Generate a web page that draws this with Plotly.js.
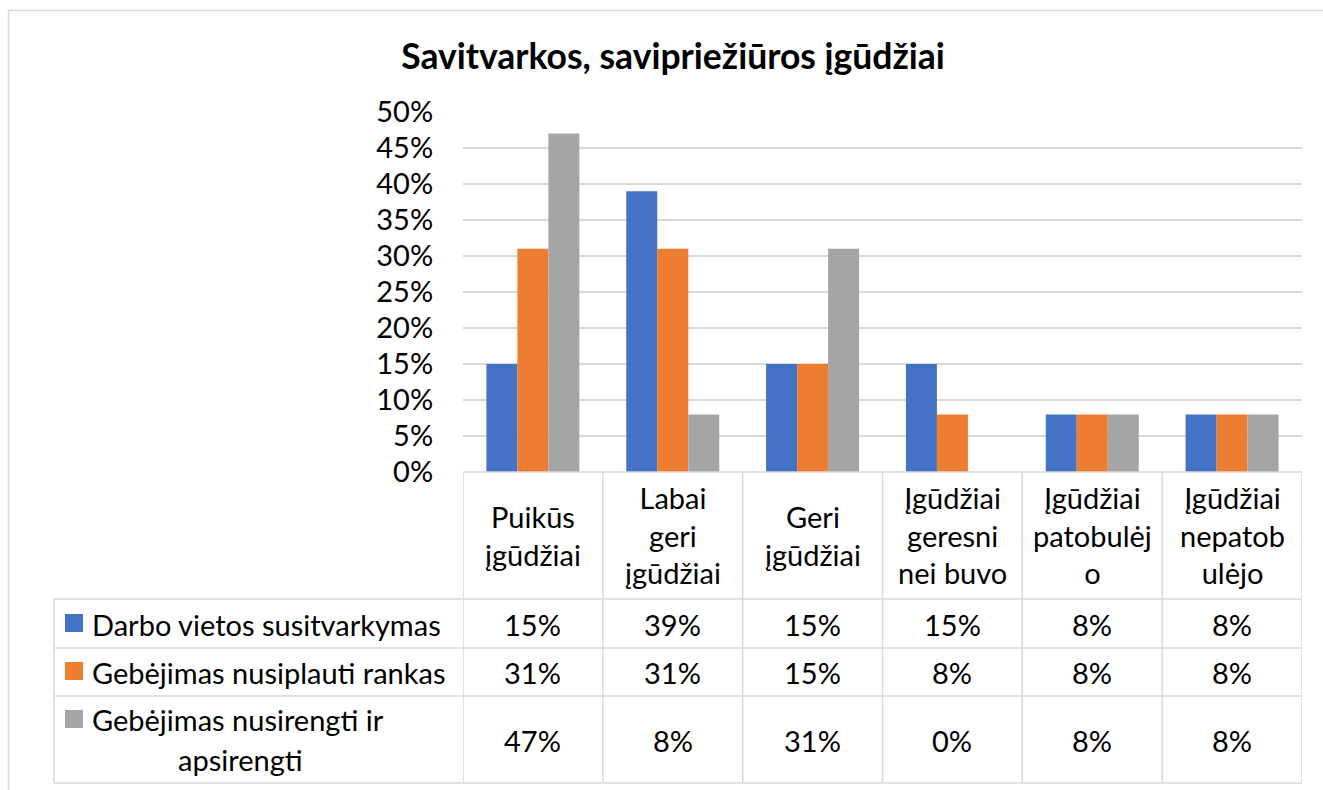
<!DOCTYPE html>
<html>
<head>
<meta charset="utf-8">
<script src="https://cdn.plot.ly/plotly-3.0.1.min.js"></script>
<style>html,body{margin:0;padding:0;background:#fff;}#chart{width:1323px;height:790px;}</style>
</head>
<body>
<div id="chart"></div>
<script>
// ---- data ----
const categories = ["Puikūs įgūdžiai", "Labai geri įgūdžiai", "Geri įgūdžiai", "Įgūdžiai geresni nei buvo", "Įgūdžiai patobulėjo", "Įgūdžiai nepatobulėjo"];
const categoryLabels = ["Puikūs<br>įgūdžiai", "Labai<br>geri<br>įgūdžiai", "Geri<br>įgūdžiai", "Įgūdžiai<br>geresni<br>nei buvo", "Įgūdžiai<br>patobulėj<br>o", "Įgūdžiai<br>nepatob<br>ulėjo"];
const seriesNames = ["Darbo vietos susitvarkymas", "Gebėjimas nusiplauti rankas", "Gebėjimas nusirengti ir apsirengti"];
const darbo = [0.15, 0.39, 0.15, 0.15, 0.08, 0.08];
const rankas = [0.31, 0.31, 0.15, 0.08, 0.08, 0.08];
const apsirengti = [0.47, 0.08, 0.31, 0.00, 0.08, 0.08];
const yTickVals = [0, 0.05, 0.10, 0.15, 0.20, 0.25, 0.30, 0.35, 0.40, 0.45, 0.50];
const title = "Savitvarkos, savipriežiūros įgūdžiai";

// ---- styling ----
const colors = ["#4472C4", "#ED7D31", "#A5A5A5"];
const series = [darbo, rankas, apsirengti];
const W = 1323, H = 790;
const PL = 463, PR = 1302, PT = 112, PB = 472;
const FONT = "Lato, 'Open Sans', sans-serif";
const FS = 29;
const LINE = "#d9d9d9";
const px2x = p => (p - PL) / (PR - PL);
const px2y = p => (PB - p) / (PB - PT);

const traces = series.map((vals, i) => ({
  type: "bar", x: categories, y: vals, name: seriesNames[i],
  marker: {color: colors[i]}, hoverinfo: "skip"
}));

const shapes = [];
const annotations = [];
// outer chart border
shapes.push({type: "rect", xref: "paper", yref: "paper", x0: px2x(8.5), x1: px2x(1340), y0: px2y(10.5), y1: px2y(800), line: {color: LINE, width: 1.5}, fillcolor: "rgba(0,0,0,0)", layer: "below"});

// table geometry (pixels)
const rowLines = [599, 648, 696, 783];
const legendLeft = 54;
rowLines.forEach(py => shapes.push({type: "line", xref: "paper", yref: "paper", x0: px2x(legendLeft), x1: 1, y0: px2y(py), y1: px2y(py), line: {color: LINE, width: 1.5}}));
shapes.push({type: "line", xref: "paper", yref: "paper", x0: 0, x1: 1, y0: 0, y1: 0, line: {color: LINE, width: 1.5}});
for (let k = 0; k <= categories.length; k++) {
  shapes.push({type: "line", xref: "x", yref: "paper", x0: k - 0.5, x1: k - 0.5, y0: 0, y1: px2y(783), line: {color: LINE, width: 1.5}});
}
shapes.push({type: "line", xref: "paper", yref: "paper", x0: px2x(legendLeft), x1: px2x(legendLeft), y0: px2y(599), y1: px2y(783), line: {color: LINE, width: 1.5}});

// category labels
categories.forEach((c, i) => annotations.push({
  xref: "x", yref: "paper", x: c, y: px2y(535), text: categoryLabels[i], showarrow: false,
  xanchor: "center", yanchor: "middle", font: {family: FONT, size: FS, color: "#000"}
}));
// values
const rowCenters = [624, 672, 740];
series.forEach((vals, s) => vals.forEach((v, i) => annotations.push({
  xref: "x", yref: "paper", x: categories[i], y: px2y(rowCenters[s]), text: Math.round(v * 100) + "%", showarrow: false,
  xanchor: "center", yanchor: "middle", font: {family: FONT, size: FS, color: "#000"}
})));
// legend keys
const keyCenters = [623, 671, 719];
keyCenters.forEach((cy, s) => shapes.push({type: "rect", xref: "paper", yref: "paper", x0: px2x(65), x1: px2x(83), y0: px2y(cy - 9), y1: px2y(cy + 9), line: {width: 0}, fillcolor: colors[s]}));
annotations.push({xref: "paper", yref: "paper", x: px2x(90), y: px2y(624), text: seriesNames[0], showarrow: false, xanchor: "left", yanchor: "middle", font: {family: FONT, size: FS, color: "#000"}});
annotations.push({xref: "paper", yref: "paper", x: px2x(90), y: px2y(672), text: seriesNames[1], showarrow: false, xanchor: "left", yanchor: "middle", font: {family: FONT, size: FS, color: "#000"}});
const s3 = seriesNames[2].split(" ");
annotations.push({xref: "paper", yref: "paper", x: px2x(90), y: px2y(719), text: s3.slice(0, 3).join(" "), showarrow: false, xanchor: "left", yanchor: "middle", font: {family: FONT, size: FS, color: "#000"}});
annotations.push({xref: "paper", yref: "paper", x: px2x(240), y: px2y(759), text: s3.slice(3).join(" "), showarrow: false, xanchor: "center", yanchor: "middle", font: {family: FONT, size: FS, color: "#000"}});

const layout = {
  width: W, height: H,
  margin: {l: PL, r: W - PR, t: PT, b: H - PB, pad: 0},
  paper_bgcolor: "#fff", plot_bgcolor: "#fff",
  showlegend: false,
  barmode: "group", bargap: 0.335, bargroupgap: 0,
  title: {text: "<b>" + title + "</b>", xref: "container", yref: "container", x: 673 / W, y: 1 - 57 / H, xanchor: "center", yanchor: "middle", font: {family: FONT, size: 35.5, color: "#000"}},
  xaxis: {type: "category", range: [-0.5, 5.5], showticklabels: false, showgrid: false, zeroline: false, showline: false, ticks: "", fixedrange: true},
  yaxis: {range: [0, 0.5], tickvals: yTickVals, tickformat: ".0%", showgrid: true, gridcolor: LINE, gridwidth: 1.5, zeroline: false, showline: false,
          ticks: "outside", ticklen: 23, tickcolor: "rgba(0,0,0,0)", tickfont: {family: FONT, size: FS, color: "#000"}, fixedrange: true},
  shapes: shapes,
  annotations: annotations,
  hovermode: false
};
Plotly.newPlot("chart", traces, layout, {displayModeBar: false, staticPlot: true});
</script>
</body>
</html>
